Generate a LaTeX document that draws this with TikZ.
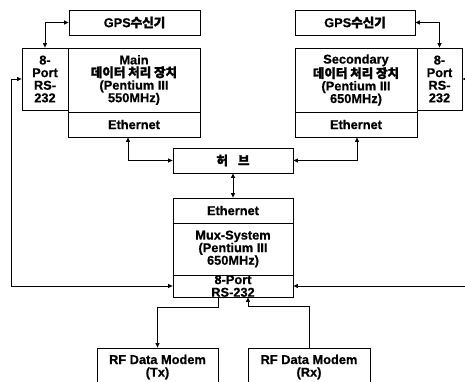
\documentclass[tikz,border=0pt]{standalone}
\usepackage{fontspec}
\setmainfont{Liberation Sans}[BoldFeatures={FakeBold=0.6}]
\newfontfamily\kr{Noto Sans CJK KR}[FakeBold=1.8]
\newcommand\krtext{\kr\fontsize{12.5}{12.6}\selectfont}
\usetikzlibrary{arrows.meta}
\begin{document}
\begin{tikzpicture}[x=1pt,y=-1pt,
  box/.style={draw, line width=0.8pt, inner sep=0pt, align=center,
    font=\fontsize{12.8}{12.6}\selectfont\bfseries},
  conn/.style={line width=0.7pt},
  tp/.tip={Triangle[length=4.5pt,width=4pt]}]
\useasboundingbox (0,0) rectangle (465,382);
% left side
\node[box, minimum width=131pt, minimum height=25pt] (gpsL) at (134.5,22.5) {GPS{\krtext 수신기}};
\node[box, minimum width=46pt, minimum height=62pt] (rsL) at (45,79) {8-\\Port\\RS-\\232};
\node[box, minimum width=132pt, minimum height=64pt] (mainL) at (134,80) {Main\\{\krtext 데이터 처리 장치}\\(Pentium III\\550MHz)};
\node[box, minimum width=132pt, minimum height=25pt] (ethL) at (134,124.5) {Ethernet};
% right side
\node[box, minimum width=120pt, minimum height=25pt] (gpsR) at (355,22.5) {GPS{\krtext 수신기}};
\node[box, minimum width=122pt, minimum height=64pt] (secR) at (356,80) {Secondary\\{\krtext 데이터 처리 장치}\\(Pentium III\\650MHz)};
\node[box, minimum width=122pt, minimum height=25pt] (ethR) at (356,124.5) {Ethernet};
\node[box, minimum width=45pt, minimum height=62pt] (rsR) at (439.5,79) {8-\\Port\\RS-\\232};
% hub
\node[box, minimum width=120pt, minimum height=25pt] (hub) at (233,160.5) {{\krtext 허\hspace{0.8em}브}};
% mux
\node[box, minimum width=120pt, minimum height=25pt] (muxEth) at (233,210.5) {Ethernet};
\node[box, minimum width=120pt, minimum height=52pt] (mux) at (233,249) {Mux-System\\(Pentium III\\650MHz)};
\node[box, minimum width=120pt, minimum height=22pt] (muxRS) at (233,286) {8-Port\\RS-232};
% modems
\node[box, minimum width=121pt, minimum height=38pt] (txM) at (157.5,367) {RF Data Modem\\(Tx)};
\node[box, minimum width=122pt, minimum height=38pt] (rxM) at (309,367) {RF Data Modem\\(Rx)};
% connectors
\coordinate (rOut) at (485,79);
\draw[conn,tp-tp] (gpsL.west) -| (rsL.north);
\draw[conn,tp-tp] (gpsR.east) -| (rsR.north);
\draw[conn,tp-tp] (rsL.west) -- ++(-10,0) |- (muxRS.west);
\draw[conn,tp-tp] (rsR.east) -- (rOut) |- (muxRS.east);
\draw[conn,tp-tp] ([xshift=-6pt]ethL.south) |- (hub.west);
\draw[conn,tp-tp] ([xshift=1pt]ethR.south) |- (hub.east);
\draw[conn,tp-tp] (hub.south) -- (muxEth.north);
\draw[conn,-tp] ([xshift=-15pt]muxRS.south) -- ++(0,10) -| (txM.north);
\draw[conn,-tp] (rxM.north) -- ++(0,-41) -| ([xshift=15pt]muxRS.south);
\end{tikzpicture}
\end{document}
